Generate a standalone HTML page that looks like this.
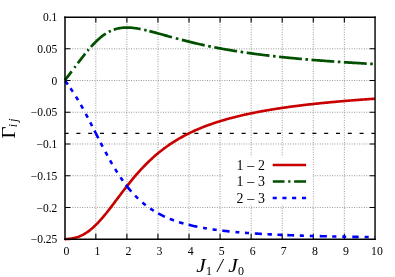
<!DOCTYPE html>
<html><head><meta charset="utf-8"><title>Gamma_ij vs J1/J0</title>
<style>html,body{margin:0;padding:0;background:#fff;}body{width:395px;height:277px;overflow:hidden;font-family:"Liberation Serif",serif;}svg{display:block;position:absolute;left:0;top:0;will-change:transform;}</style>
</head><body>
<svg width="395" height="277" viewBox="0 0 395 277">
<rect width="395" height="277" fill="#fff"/>
<path d="M95.83,17.07 V239.18 M126.90,17.07 V239.18 M157.96,17.07 V239.18 M189.02,17.07 V239.18 M220.08,17.07 V239.18 M251.15,17.07 V239.18 M282.21,17.07 V239.18 M313.27,17.07 V239.18 M344.34,17.07 V239.18 M65.0,48.80 H375.05 M65.0,80.53 H375.05 M65.0,112.26 H375.05 M65.0,143.99 H375.05 M65.0,175.72 H375.05 M65.0,207.45 H375.05" stroke="#8e8e8e" stroke-width="1" stroke-dasharray="0.9 1.55" fill="none"/>
<rect x="224" y="156.4" width="88.6" height="47.6" fill="#fff"/>
<path d="M95.83,239.18 v-5.4 M95.83,17.07 v5.4 M126.90,239.18 v-5.4 M126.90,17.07 v5.4 M157.96,239.18 v-5.4 M157.96,17.07 v5.4 M189.02,239.18 v-5.4 M189.02,17.07 v5.4 M220.08,239.18 v-5.4 M220.08,17.07 v5.4 M251.15,239.18 v-5.4 M251.15,17.07 v5.4 M282.21,239.18 v-5.4 M282.21,17.07 v5.4 M313.27,239.18 v-5.4 M313.27,17.07 v5.4 M344.34,239.18 v-5.4 M344.34,17.07 v5.4 M65.0,48.80 h5.4 M375.05,48.80 h-5.4 M65.0,80.53 h5.4 M375.05,80.53 h-5.4 M65.0,112.26 h5.4 M375.05,112.26 h-5.4 M65.0,143.99 h5.4 M375.05,143.99 h-5.4 M65.0,175.72 h5.4 M375.05,175.72 h-5.4 M65.0,207.45 h5.4 M375.05,207.45 h-5.4" stroke="#000" stroke-width="1.1" fill="none"/>
<path d="M64.6,133.41 H375.05" stroke="#000" stroke-width="1.25" stroke-dasharray="4.0 7.8" fill="none"/>
<path d="M64.70,239.08 L65.70,239.07 L66.70,239.04 L67.69,238.99 L68.69,238.91 L69.69,238.81 L70.69,238.69 L71.69,238.53 L72.68,238.35 L73.68,238.15 L74.68,237.91 L75.68,237.64 L76.67,237.34 L77.67,237.01 L78.67,236.65 L79.67,236.25 L80.67,235.82 L81.66,235.36 L82.66,234.86 L83.66,234.32 L84.66,233.75 L85.66,233.14 L86.65,232.50 L87.65,231.82 L88.65,231.10 L89.65,230.35 L90.65,229.56 L91.64,228.74 L92.64,227.88 L93.64,226.99 L94.64,226.06 L95.64,225.10 L96.63,224.11 L97.63,223.09 L98.63,222.04 L99.63,220.96 L100.62,219.86 L101.62,218.73 L102.62,217.57 L103.62,216.39 L104.62,215.19 L105.61,213.97 L106.61,212.74 L107.61,211.48 L108.61,210.22 L109.61,208.93 L110.60,207.64 L111.60,206.34 L112.60,205.03 L113.60,203.71 L114.60,202.39 L115.59,201.06 L116.59,199.73 L117.59,198.41 L118.59,197.08 L119.59,195.75 L120.58,194.43 L121.58,193.11 L122.58,191.79 L123.58,190.49 L124.57,189.19 L125.57,187.90 L126.57,186.61 L127.57,185.34 L128.57,184.08 L129.56,182.83 L130.56,181.59 L131.56,180.36 L132.56,179.15 L133.56,177.95 L134.55,176.77 L135.55,175.60 L136.55,174.44 L137.55,173.30 L138.55,172.17 L139.54,171.06 L140.54,169.96 L141.54,168.88 L142.54,167.82 L143.53,166.77 L144.53,165.73 L145.53,164.72 L146.53,163.71 L147.53,162.72 L148.52,161.75 L149.52,160.80 L150.52,159.85 L151.52,158.93 L152.52,158.02 L153.51,157.12 L154.51,156.24 L155.51,155.37 L156.51,154.52 L157.51,153.68 L158.50,152.85 L159.50,152.04 L160.50,151.24 L161.50,150.46 L162.50,149.69 L163.49,148.93 L164.49,148.19 L165.49,147.45 L166.49,146.73 L167.48,146.02 L168.48,145.33 L169.48,144.64 L170.48,143.97 L171.48,143.31 L172.47,142.66 L173.47,142.02 L174.47,141.39 L175.47,140.77 L176.47,140.16 L177.46,139.57 L178.46,138.98 L179.46,138.40 L180.46,137.83 L181.46,137.27 L182.45,136.72 L183.45,136.18 L184.45,135.65 L185.45,135.12 L186.45,134.61 L187.44,134.10 L188.44,133.60 L189.44,133.11 L190.44,132.63 L191.43,132.15 L192.43,131.68 L193.43,131.22 L194.43,130.77 L195.43,130.32 L196.42,129.88 L197.42,129.45 L198.42,129.02 L199.42,128.60 L200.42,128.19 L201.41,127.78 L202.41,127.38 L203.41,126.99 L204.41,126.60 L205.41,126.22 L206.40,125.84 L207.40,125.47 L208.40,125.10 L209.40,124.74 L210.39,124.38 L211.39,124.03 L212.39,123.69 L213.39,123.35 L214.39,123.01 L215.38,122.68 L216.38,122.35 L217.38,122.03 L218.38,121.71 L219.38,121.40 L220.37,121.09 L221.37,120.79 L222.37,120.49 L223.37,120.19 L224.37,119.90 L225.36,119.61 L226.36,119.33 L227.36,119.05 L228.36,118.77 L229.36,118.50 L230.35,118.23 L231.35,117.96 L232.35,117.70 L233.35,117.44 L234.34,117.18 L235.34,116.93 L236.34,116.68 L237.34,116.44 L238.34,116.19 L239.33,115.95 L240.33,115.72 L241.33,115.48 L242.33,115.25 L243.33,115.02 L244.32,114.80 L245.32,114.57 L246.32,114.35 L247.32,114.14 L248.32,113.92 L249.31,113.71 L250.31,113.50 L251.31,113.29 L252.31,113.09 L253.30,112.88 L254.30,112.68 L255.30,112.49 L256.30,112.29 L257.30,112.10 L258.29,111.91 L259.29,111.72 L260.29,111.53 L261.29,111.35 L262.29,111.17 L263.28,110.98 L264.28,110.81 L265.28,110.63 L266.28,110.46 L267.28,110.28 L268.27,110.11 L269.27,109.94 L270.27,109.78 L271.27,109.61 L272.27,109.45 L273.26,109.29 L274.26,109.13 L275.26,108.97 L276.26,108.81 L277.25,108.66 L278.25,108.50 L279.25,108.35 L280.25,108.20 L281.25,108.05 L282.24,107.90 L283.24,107.76 L284.24,107.61 L285.24,107.47 L286.24,107.33 L287.23,107.19 L288.23,107.05 L289.23,106.91 L290.23,106.78 L291.23,106.64 L292.22,106.51 L293.22,106.38 L294.22,106.25 L295.22,106.12 L296.22,105.99 L297.21,105.86 L298.21,105.74 L299.21,105.61 L300.21,105.49 L301.20,105.37 L302.20,105.25 L303.20,105.13 L304.20,105.01 L305.20,104.89 L306.19,104.78 L307.19,104.66 L308.19,104.55 L309.19,104.43 L310.19,104.32 L311.18,104.21 L312.18,104.10 L313.18,103.99 L314.18,103.88 L315.18,103.77 L316.17,103.67 L317.17,103.56 L318.17,103.46 L319.17,103.35 L320.16,103.25 L321.16,103.15 L322.16,103.05 L323.16,102.95 L324.16,102.85 L325.15,102.75 L326.15,102.65 L327.15,102.56 L328.15,102.46 L329.15,102.36 L330.14,102.27 L331.14,102.18 L332.14,102.08 L333.14,101.99 L334.14,101.90 L335.13,101.81 L336.13,101.72 L337.13,101.63 L338.13,101.54 L339.13,101.46 L340.12,101.37 L341.12,101.28 L342.12,101.20 L343.12,101.11 L344.11,101.03 L345.11,100.94 L346.11,100.86 L347.11,100.78 L348.11,100.70 L349.10,100.62 L350.10,100.54 L351.10,100.46 L352.10,100.38 L353.10,100.30 L354.09,100.22 L355.09,100.15 L356.09,100.07 L357.09,99.99 L358.09,99.92 L359.08,99.84 L360.08,99.77 L361.08,99.69 L362.08,99.62 L363.08,99.55 L364.07,99.48 L365.07,99.40 L366.07,99.33 L367.07,99.26 L368.06,99.19 L369.06,99.12 L370.06,99.05 L371.06,98.99 L372.06,98.92 L373.05,98.85 L374.05,98.78 L375.05,98.72" stroke="#c80000" stroke-width="2.65" fill="none" stroke-linejoin="round"/>
<path d="M65.00,80.14 L65.96,78.91 L66.91,77.67 L67.87,76.42 L68.83,75.17 L69.79,73.91 L70.74,72.65 L71.70,71.38 M74.40,67.79 L75.00,66.99 L75.60,66.19 M77.80,63.27 L78.72,62.05 L79.65,60.83 L80.58,59.62 L81.50,58.42 L82.42,57.22 L83.35,56.04 L84.28,54.87 L85.20,53.71 M87.50,50.89 L88.10,50.17 L88.70,49.46 M90.90,46.93 L91.89,45.82 L92.89,44.75 L93.88,43.70 L94.87,42.67 L95.87,41.68 L96.86,40.72 L97.85,39.80 L98.85,38.90 L99.84,38.04 L100.83,37.22 L101.83,36.42 L102.82,35.67 L103.81,34.95 L104.81,34.26 L105.80,33.62 M108.80,31.88 L109.47,31.53 L110.13,31.21 L110.80,30.89 M113.80,29.68 L114.79,29.35 L115.79,29.04 L116.78,28.77 L117.77,28.53 L118.76,28.32 L119.76,28.13 L120.75,27.97 L121.74,27.84 L122.73,27.74 L123.73,27.66 L124.72,27.60 L125.71,27.56 L126.70,27.55 L127.70,27.55 L128.69,27.58 L129.68,27.62 L130.67,27.68 L131.67,27.76 L132.66,27.86 L133.65,27.97 L134.64,28.09 L135.64,28.23 L136.63,28.37 L137.62,28.53 L138.61,28.71 L139.61,28.89 L140.60,29.08 M144.20,29.84 L145.00,30.02 L145.80,30.21 L146.60,30.40 M149.40,31.09 L150.38,31.34 L151.37,31.60 L152.35,31.85 L153.33,32.12 L154.31,32.38 L155.30,32.64 L156.28,32.91 L157.26,33.18 L158.24,33.45 L159.23,33.72 L160.21,34.00 L161.19,34.27 L162.17,34.54 L163.16,34.82 L164.14,35.09 L165.12,35.37 L166.10,35.64 L167.09,35.91 L168.07,36.19 L169.05,36.46 L170.03,36.73 L171.02,37.00 L172.00,37.27 M175.80,38.31 L176.67,38.54 L177.53,38.77 L178.40,39.00 M181.90,39.92 L182.89,40.17 L183.88,40.43 L184.87,40.68 L185.87,40.93 L186.86,41.18 L187.85,41.43 L188.84,41.67 L189.83,41.91 L190.82,42.16 L191.81,42.39 L192.80,42.63 L193.80,42.87 L194.79,43.10 L195.78,43.33 L196.77,43.56 L197.76,43.79 L198.75,44.01 L199.74,44.24 L200.73,44.46 L201.73,44.68 L202.72,44.89 L203.71,45.11 L204.70,45.32 M208.20,46.06 L209.07,46.24 L209.93,46.42 L210.80,46.59 M214.30,47.29 L215.29,47.48 L216.28,47.67 L217.27,47.86 L218.27,48.05 L219.26,48.23 L220.25,48.42 L221.24,48.60 L222.23,48.78 L223.22,48.96 L224.21,49.14 L225.20,49.31 L226.20,49.49 L227.19,49.66 L228.18,49.83 L229.17,50.00 L230.16,50.16 L231.15,50.33 L232.14,50.49 L233.13,50.66 L234.13,50.82 L235.12,50.98 L236.11,51.14 L237.10,51.29 M240.60,51.83 L241.47,51.96 L242.33,52.09 L243.20,52.22 M246.70,52.74 L247.69,52.88 L248.68,53.02 L249.67,53.16 L250.67,53.29 L251.66,53.43 L252.65,53.57 L253.64,53.70 L254.63,53.83 L255.62,53.97 L256.61,54.10 L257.60,54.23 L258.60,54.35 L259.59,54.48 L260.58,54.61 L261.57,54.73 L262.56,54.86 L263.55,54.98 L264.54,55.10 L265.53,55.22 L266.53,55.34 L267.52,55.46 L268.51,55.58 L269.50,55.69 M273.00,56.10 L273.87,56.19 L274.73,56.29 L275.60,56.39 M279.10,56.77 L280.09,56.88 L281.08,56.98 L282.07,57.09 L283.07,57.19 L284.06,57.29 L285.05,57.39 L286.04,57.50 L287.03,57.60 L288.02,57.70 L289.01,57.79 L290.00,57.89 L291.00,57.99 L291.99,58.08 L292.98,58.18 L293.97,58.27 L294.96,58.37 L295.95,58.46 L296.94,58.55 L297.93,58.65 L298.93,58.74 L299.92,58.83 L300.91,58.92 L301.90,59.01 M305.40,59.31 L306.27,59.39 L307.13,59.46 L308.00,59.54 M311.50,59.83 L312.49,59.91 L313.48,59.99 L314.47,60.07 L315.47,60.15 L316.46,60.23 L317.45,60.31 L318.44,60.39 L319.43,60.47 L320.42,60.55 L321.41,60.62 L322.40,60.70 L323.40,60.77 L324.39,60.85 L325.38,60.92 L326.37,61.00 L327.36,61.07 L328.35,61.14 L329.34,61.21 L330.33,61.29 L331.33,61.36 L332.32,61.43 L333.31,61.50 L334.30,61.57 M337.80,61.81 L338.67,61.87 L339.53,61.93 L340.40,61.99 M343.90,62.22 L344.89,62.28 L345.88,62.35 L346.87,62.41 L347.87,62.47 L348.86,62.54 L349.85,62.60 L350.84,62.66 L351.83,62.72 L352.82,62.78 L353.81,62.84 L354.80,62.90 L355.80,62.96 L356.79,63.02 L357.78,63.08 L358.77,63.14 L359.76,63.20 L360.75,63.26 L361.74,63.32 L362.73,63.37 L363.73,63.43 L364.72,63.49 L365.71,63.54 L366.70,63.60 M370.20,63.79 L371.07,63.84 L371.93,63.89 L372.80,63.93" stroke="#005000" stroke-width="2.7" fill="none"/>
<path d="M65.34,81.16 L66.18,82.26 L67.02,83.38 L67.86,84.52 M70.53,88.30 L71.31,89.45 L72.09,90.61 L72.87,91.79 M75.91,96.59 L76.64,97.77 L77.36,98.97 L78.09,100.18 M80.87,104.98 L81.56,106.19 L82.24,107.41 L82.93,108.64 M85.82,113.95 L86.80,115.80 L87.78,117.66 M90.24,122.38 L91.20,124.24 L92.16,126.11 M94.45,130.60 L95.43,132.51 L96.40,134.43 L97.37,136.34 L98.35,138.26 M100.73,142.91 L101.70,144.78 L102.67,146.64 M105.40,151.84 L106.40,153.70 L107.40,155.54 M110.06,160.35 L110.75,161.58 L111.45,162.79 L112.14,163.99 M115.09,168.96 L115.83,170.16 L116.57,171.35 L117.31,172.52 M120.50,177.39 L121.30,178.56 L122.10,179.71 L122.90,180.84 M125.88,184.88 L126.79,186.06 L127.69,187.21 L128.60,188.33 L129.51,189.43 L130.41,190.50 L131.32,191.55 M135.11,195.68 L136.10,196.69 L137.10,197.68 L138.09,198.64 M142.47,202.59 L143.28,203.27 L144.10,203.94 L144.92,204.60 L145.73,205.23 M150.24,208.52 L151.12,209.11 L152.00,209.69 L152.88,210.26 L153.76,210.81 M158.20,213.40 L159.16,213.92 L160.11,214.42 L161.07,214.91 L162.03,215.39 L162.99,215.85 L163.94,216.31 L164.90,216.75 M169.80,218.85 L170.64,219.18 L171.48,219.50 L172.32,219.82 L173.16,220.13 L174.00,220.44 M179.00,222.12 L179.90,222.40 L180.80,222.67 L181.70,222.94 L182.60,223.20 L183.50,223.46 M188.60,224.81 L189.58,225.05 L190.56,225.28 L191.53,225.51 L192.51,225.73 L193.49,225.95 L194.47,226.16 L195.44,226.37 L196.42,226.58 L197.40,226.78 M203.10,227.85 L204.05,228.02 L205.00,228.18 L205.95,228.34 L206.90,228.50 M212.60,229.37 L213.42,229.49 L214.24,229.61 L215.06,229.72 L215.88,229.83 L216.70,229.94 M222.30,230.64 L223.21,230.75 L224.12,230.85 L225.04,230.95 L225.95,231.05 L226.86,231.15 L227.78,231.25 L228.69,231.35 L229.60,231.44 M235.50,232.01 L236.45,232.10 L237.40,232.18 L238.35,232.26 L239.30,232.35 M245.00,232.81 L245.80,232.87 L246.60,232.93 L247.40,232.99 L248.20,233.04 L249.00,233.10 M254.80,233.50 L255.69,233.55 L256.57,233.61 L257.46,233.67 L258.35,233.72 L259.24,233.77 L260.12,233.83 L261.01,233.88 L261.90,233.93 M267.50,234.24 L268.38,234.29 L269.26,234.33 L270.14,234.38 L271.02,234.42 L271.90,234.46 M277.40,234.72 L278.34,234.76 L279.28,234.81 L280.22,234.85 L281.16,234.89 L282.10,234.93 M287.30,235.14 L288.27,235.17 L289.24,235.21 L290.21,235.25 L291.19,235.28 L292.16,235.32 L293.13,235.35 L294.10,235.39 M299.80,235.58 L300.62,235.61 L301.44,235.63 L302.26,235.66 L303.08,235.69 L303.90,235.71 M309.80,235.89 L310.62,235.91 L311.44,235.93 L312.26,235.96 L313.08,235.98 L313.90,236.00 M319.70,236.15 L320.60,236.17 L321.50,236.20 L322.40,236.22 L323.30,236.24 L324.20,236.26 L325.10,236.28 L326.00,236.30 L326.90,236.32 M332.20,236.44 L333.04,236.46 L333.88,236.48 L334.72,236.50 L335.56,236.51 L336.40,236.53 M342.26,236.65 L343.25,236.66 L344.23,236.68 L345.21,236.70 L346.20,236.72 M352.30,236.83 L353.21,236.84 L354.13,236.86 L355.04,236.87 L355.96,236.89 L356.87,236.90 L357.79,236.92 L358.70,236.93 M364.60,237.02 L365.42,237.03 L366.24,237.05 L367.06,237.06 L367.88,237.07 L368.70,237.08 M374.50,237.16 L375.05,237.17" stroke="#0000ff" stroke-width="2.6" fill="none"/>
<path d="M65.0,16.6 V240.0" stroke="#000" stroke-width="1.5" fill="none"/>
<path d="M375.05,16.6 V240.0" stroke="#000" stroke-width="1.4" fill="none"/>
<path d="M64.25,17.25 H375.75" stroke="#000" stroke-width="1.3" fill="none"/>
<path d="M64.25,239.25 H375.75" stroke="#000" stroke-width="1.5" fill="none"/>
<path d="M272.7,165.0 H306.1" stroke="#c80000" stroke-width="2.4"/>
<path d="M272.8,181.4 H284.5 M288.2,181.4 H290.4 M294.1,181.4 H306.1" stroke="#005000" stroke-width="2.5"/>
<path d="M272.7,197.95 H276.8 M282.4,197.95 H286.5 M292.1,197.95 H296.2 M302.0,197.95 H306.1" stroke="#0000ff" stroke-width="2.5"/>
<g font-family="Liberation Serif, serif" font-size="11.5" fill="#000" text-anchor="end">
<text x="57.3" y="21.17">0.1</text>
<text x="57.3" y="52.90">0.05</text>
<text x="57.3" y="84.63">0</text>
<text x="57.3" y="116.36">−0.05</text>
<text x="57.3" y="148.09">−0.1</text>
<text x="57.3" y="179.82">−0.15</text>
<text x="57.3" y="211.55">−0.2</text>
<text x="57.3" y="243.28">−0.25</text>
</g>
<g font-family="Liberation Serif, serif" font-size="11.8" fill="#000" text-anchor="middle">
<text x="66.37" y="255.3">0</text>
<text x="97.43" y="255.3">1</text>
<text x="128.50" y="255.3">2</text>
<text x="159.56" y="255.3">3</text>
<text x="190.62" y="255.3">4</text>
<text x="221.68" y="255.3">5</text>
<text x="252.75" y="255.3">6</text>
<text x="283.81" y="255.3">7</text>
<text x="314.87" y="255.3">8</text>
<text x="345.94" y="255.3">9</text>
<text x="377.00" y="255.3">10</text>
</g>
<g font-family="Liberation Serif, serif" font-size="13.9" fill="#000" text-anchor="end" word-spacing="0.3">
<text x="264.9" y="169.5">1 – 2</text>
<text x="264.9" y="186.3">1 – 3</text>
<text x="264.9" y="202.9">2 – 3</text>
</g>
<g font-family="Liberation Serif, serif" fill="#000"><text font-size="19.5" font-style="italic" transform="translate(196.3,272.2) scale(1.1,1)">J</text><text font-size="12" x="206.0" y="274.6">1</text><text font-size="19.5" font-style="italic" x="217.2" y="272.2">/</text><text font-size="19.5" font-style="italic" transform="translate(228.2,272.2) scale(1.1,1)">J</text><text font-size="12" x="238.1" y="274.6">0</text></g>
<g font-family="Liberation Serif, serif" fill="#000"><text font-size="19.5" transform="translate(15.2,138.5) rotate(-90) scale(1.07,1)">Γ</text><text font-size="11.5" font-style="italic" transform="translate(16.5,127.2) rotate(-90)">i</text><text font-size="11.5" font-style="italic" transform="translate(16.5,121.8) rotate(-90)">j</text></g>
</svg>
</body></html>
